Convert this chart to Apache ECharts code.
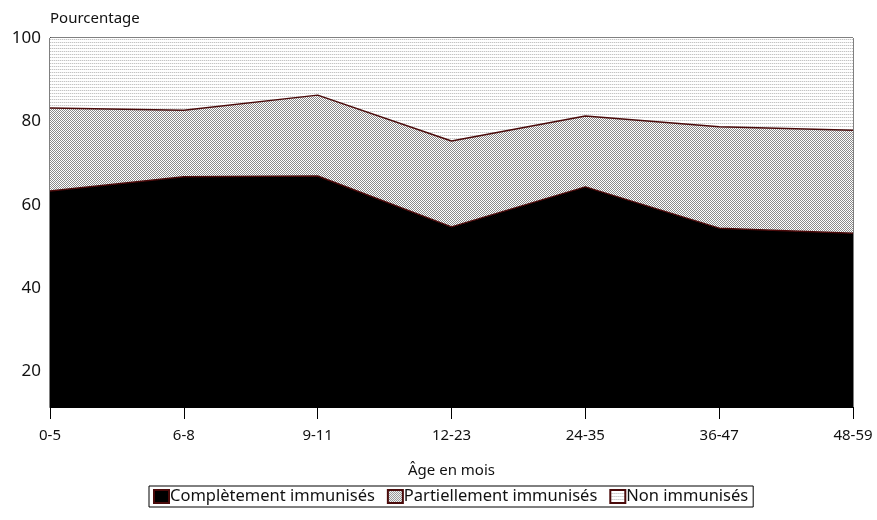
<!DOCTYPE html>
<html>
<head>
<meta charset="utf-8">
<script src="https://cdn.jsdelivr.net/npm/echarts@6/dist/echarts.min.js"></script>
<style>html,body{margin:0;padding:0;background:#fff}#c{width:877px;height:520px}</style>
</head>
<body>
<div id="c"></div>
<script>
var categories = ['0-5', '6-8', '9-11', '12-23', '24-35', '36-47', '48-59'];
var completement = [63.3, 66.7, 66.9, 54.7, 64.3, 54.4, 53.2];
var partiellement = [19.9, 16.0, 19.4, 20.6, 17.0, 24.3, 24.7];
var nonImmunises = [16.8, 17.3, 13.7, 24.7, 18.7, 21.3, 22.1];
var yTicks = [20, 40, 60, 80, 100];
var seriesNames = ['Complètement immunisés', 'Partiellement immunisés', 'Non immunisés'];

function makePattern(w, h, pixels, bg) {
  var c = document.createElement('canvas');
  c.width = w; c.height = h;
  var ctx = c.getContext('2d');
  ctx.fillStyle = bg; ctx.fillRect(0, 0, w, h);
  pixels.forEach(function (p) { ctx.fillStyle = p[2]; ctx.fillRect(p[0], p[1], 1, 1); });
  return { image: c, repeat: 'repeat' };
}
var checker = makePattern(2, 2, [[0, 0, '#8a8a8a'], [1, 1, '#8a8a8a']], '#ffffff');
var dotted = makePattern(2, 3, [[0, 0, '#c4c4c4'], [1, 0, '#ececec']], '#ffffff');

var font = '"Noto Sans", "Open Sans", sans-serif';
var lineCol = '#4a0a0a';
var chart = echarts.init(document.getElementById('c'), null, { renderer: 'canvas' });
var values = [completement, partiellement, nonImmunises];
var fills = ['#000000', checker, dotted];
chart.setOption({
  animation: false,
  grid: { left: 50, right: 24, top: 38, bottom: 113, show: true, borderColor: '#000', borderWidth: 1, backgroundColor: 'transparent' },
  legend: {
    bottom: 13, left: 149,
    data: seriesNames,
    borderColor: '#000', borderWidth: 1, padding: [2, 5, 2, 4],
    itemGap: 12, itemWidth: 15, itemHeight: 13,
    icon: 'rect',
    textStyle: { fontFamily: font, fontSize: 16.5, color: '#111', padding: [0, 0, 0, -4] }
  },
  xAxis: {
    type: 'category', data: categories, boundaryGap: false,
    name: 'Âge en mois', nameLocation: 'middle', nameGap: 56,
    nameTextStyle: { fontFamily: font, fontSize: 15, color: '#111' },
    axisLine: { lineStyle: { color: '#000', width: 1 } },
    axisTick: { length: 12, lineStyle: { color: '#000' } },
    axisLabel: { fontFamily: font, fontSize: 15, color: '#111', margin: 21 }
  },
  yAxis: {
    type: 'value', min: 11.5, max: 100,
    name: 'Pourcentage', nameLocation: 'end', nameGap: 12,
    nameTextStyle: { fontFamily: font, fontSize: 15, color: '#111', align: 'left' },
    axisLine: { show: true, lineStyle: { color: '#000' } },
    axisTick: { show: false },
    splitLine: { show: false },
    axisLabel: { customValues: yTicks, fontFamily: font, fontSize: 17, color: '#111', margin: 9 }
  },
  series: seriesNames.map(function (n, i) {
    return {
      name: n, type: 'line', stack: 'total', data: values[i],
      symbol: 'none',
      lineStyle: { color: lineCol, width: i === 2 ? 0 : 1.5, opacity: i === 2 ? 0 : 1 },
      itemStyle: { color: fills[i], borderColor: lineCol, borderWidth: 1 },
      areaStyle: { color: fills[i], opacity: 1 },
      z: 2
    };
  })
});
</script>
</body>
</html>
